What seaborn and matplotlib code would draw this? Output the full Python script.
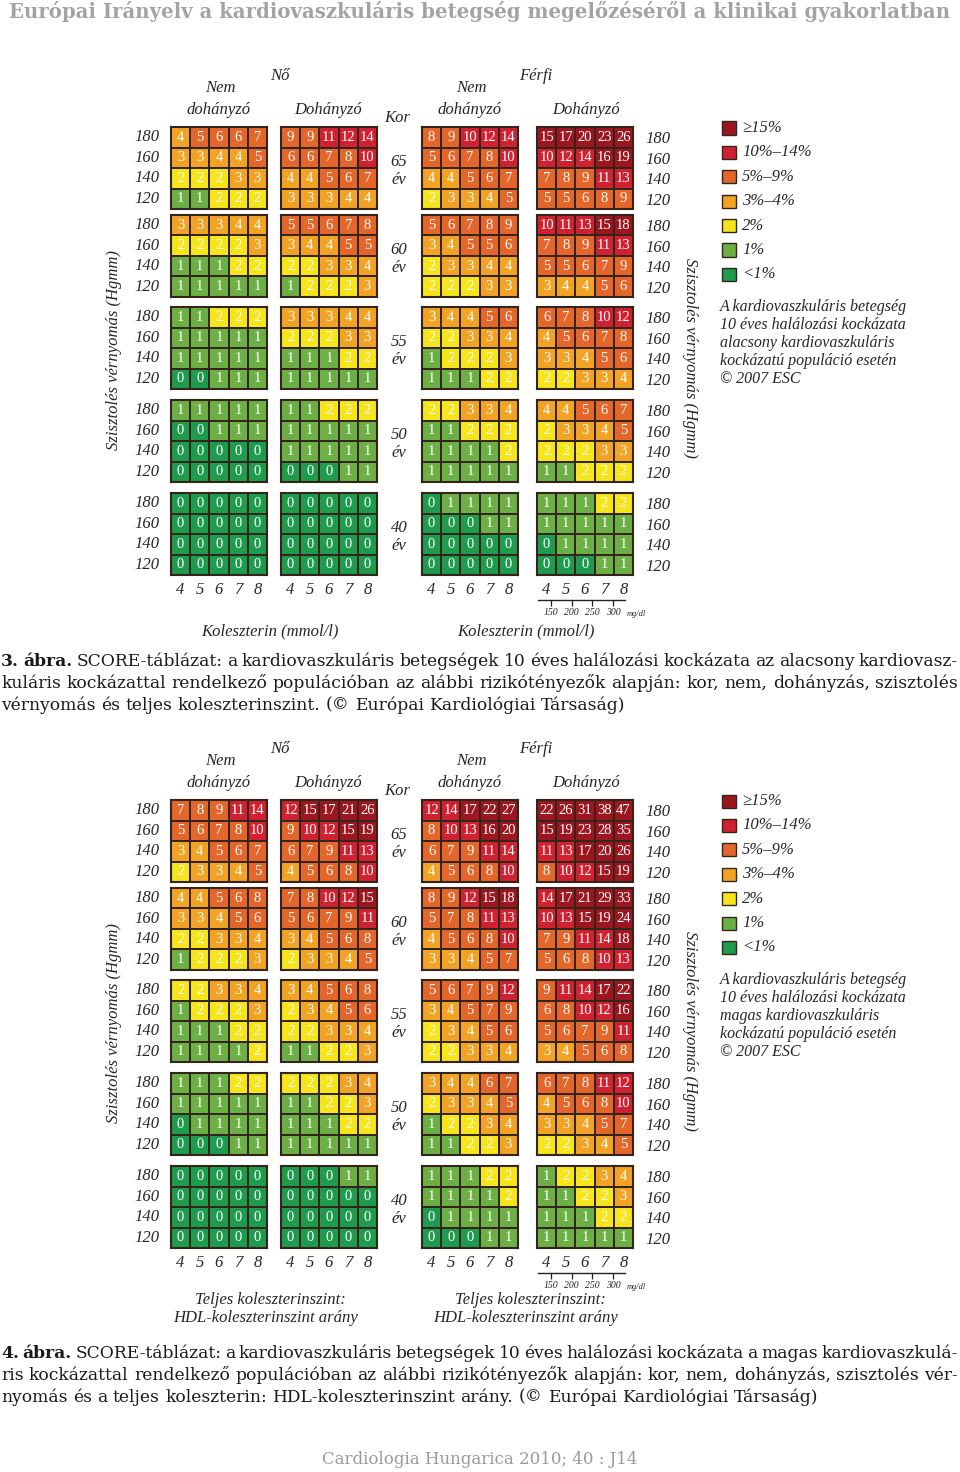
import numpy as np
import seaborn as sns
import matplotlib.pyplot as plt
from matplotlib.colors import ListedColormap, BoundaryNorm
from matplotlib.patches import Rectangle

sns.set_theme(style='white')
plt.rcParams['font.family'] = ['Liberation Serif', 'DejaVu Serif']

W, H = 960, 1472

# ---- data ----
sbp_levels = [180, 160, 140, 120]
chol_levels = [4, 5, 6, 7, 8]
ages = [65, 60, 55, 50, 40]
mgdl_ticks = [150, 200, 250, 300]

risk_bins = [0, 1, 2, 3, 5, 10, 15, 100]
risk_colors = ['#1e9b4c', '#6cb045', '#f5e51a', '#f2a324', '#e5662a', '#cf2130', '#9c1620']
legend_labels = ['≥15%', '10%–14%', '5%–9%', '3%–4%', '2%', '1%', '<1%']

zeros = [[0, 0, 0, 0, 0]] * 4

low_women_nonsmoker = [
    [[4, 5, 6, 6, 7], [3, 3, 4, 4, 5], [2, 2, 2, 3, 3], [1, 1, 2, 2, 2]],
    [[3, 3, 3, 4, 4], [2, 2, 2, 2, 3], [1, 1, 1, 2, 2], [1, 1, 1, 1, 1]],
    [[1, 1, 2, 2, 2], [1, 1, 1, 1, 1], [1, 1, 1, 1, 1], [0, 0, 1, 1, 1]],
    [[1, 1, 1, 1, 1], [0, 0, 1, 1, 1], [0, 0, 0, 0, 0], [0, 0, 0, 0, 0]],
    zeros,
]
low_women_smoker = [
    [[9, 9, 11, 12, 14], [6, 6, 7, 8, 10], [4, 4, 5, 6, 7], [3, 3, 3, 4, 4]],
    [[5, 5, 6, 7, 8], [3, 4, 4, 5, 5], [2, 2, 3, 3, 4], [1, 2, 2, 2, 3]],
    [[3, 3, 3, 4, 4], [2, 2, 2, 3, 3], [1, 1, 1, 2, 2], [1, 1, 1, 1, 1]],
    [[1, 1, 2, 2, 2], [1, 1, 1, 1, 1], [1, 1, 1, 1, 1], [0, 0, 0, 1, 1]],
    zeros,
]
low_men_nonsmoker = [
    [[8, 9, 10, 12, 14], [5, 6, 7, 8, 10], [4, 4, 5, 6, 7], [2, 3, 3, 4, 5]],
    [[5, 6, 7, 8, 9], [3, 4, 5, 5, 6], [2, 3, 3, 4, 4], [2, 2, 2, 3, 3]],
    [[3, 4, 4, 5, 6], [2, 2, 3, 3, 4], [1, 2, 2, 2, 3], [1, 1, 1, 2, 2]],
    [[2, 2, 3, 3, 4], [1, 1, 2, 2, 2], [1, 1, 1, 1, 2], [1, 1, 1, 1, 1]],
    [[0, 1, 1, 1, 1], [0, 0, 0, 1, 1], [0, 0, 0, 0, 0], [0, 0, 0, 0, 0]],
]
low_men_smoker = [
    [[15, 17, 20, 23, 26], [10, 12, 14, 16, 19], [7, 8, 9, 11, 13], [5, 5, 6, 8, 9]],
    [[10, 11, 13, 15, 18], [7, 8, 9, 11, 13], [5, 5, 6, 7, 9], [3, 4, 4, 5, 6]],
    [[6, 7, 8, 10, 12], [4, 5, 6, 7, 8], [3, 3, 4, 5, 6], [2, 2, 3, 3, 4]],
    [[4, 4, 5, 6, 7], [2, 3, 3, 4, 5], [2, 2, 2, 3, 3], [1, 1, 2, 2, 2]],
    [[1, 1, 1, 2, 2], [1, 1, 1, 1, 1], [0, 1, 1, 1, 1], [0, 0, 0, 1, 1]],
]

high_women_nonsmoker = [
    [[7, 8, 9, 11, 14], [5, 6, 7, 8, 10], [3, 4, 5, 6, 7], [2, 3, 3, 4, 5]],
    [[4, 4, 5, 6, 8], [3, 3, 4, 5, 6], [2, 2, 3, 3, 4], [1, 2, 2, 2, 3]],
    [[2, 2, 3, 3, 4], [1, 2, 2, 2, 3], [1, 1, 1, 2, 2], [1, 1, 1, 1, 2]],
    [[1, 1, 1, 2, 2], [1, 1, 1, 1, 1], [0, 1, 1, 1, 1], [0, 0, 0, 1, 1]],
    zeros,
]
high_women_smoker = [
    [[12, 15, 17, 21, 26], [9, 10, 12, 15, 19], [6, 7, 9, 11, 13], [4, 5, 6, 8, 10]],
    [[7, 8, 10, 12, 15], [5, 6, 7, 9, 11], [3, 4, 5, 6, 8], [2, 3, 3, 4, 5]],
    [[3, 4, 5, 6, 8], [2, 3, 4, 5, 6], [2, 2, 3, 3, 4], [1, 1, 2, 2, 3]],
    [[2, 2, 2, 3, 4], [1, 1, 2, 2, 3], [1, 1, 1, 2, 2], [1, 1, 1, 1, 1]],
    [[0, 0, 0, 1, 1], [0, 0, 0, 0, 0], [0, 0, 0, 0, 0], [0, 0, 0, 0, 0]],
]
high_men_nonsmoker = [
    [[12, 14, 17, 22, 27], [8, 10, 13, 16, 20], [6, 7, 9, 11, 14], [4, 5, 6, 8, 10]],
    [[8, 9, 12, 15, 18], [5, 7, 8, 11, 13], [4, 5, 6, 8, 10], [3, 3, 4, 5, 7]],
    [[5, 6, 7, 9, 12], [3, 4, 5, 7, 9], [2, 3, 4, 5, 6], [2, 2, 3, 3, 4]],
    [[3, 4, 4, 6, 7], [2, 3, 3, 4, 5], [1, 2, 2, 3, 4], [1, 1, 2, 2, 3]],
    [[1, 1, 1, 2, 2], [1, 1, 1, 1, 2], [0, 1, 1, 1, 1], [0, 0, 0, 1, 1]],
]
high_men_smoker = [
    [[22, 26, 31, 38, 47], [15, 19, 23, 28, 35], [11, 13, 17, 20, 26], [8, 10, 12, 15, 19]],
    [[14, 17, 21, 29, 33], [10, 13, 15, 19, 24], [7, 9, 11, 14, 18], [5, 6, 8, 10, 13]],
    [[9, 11, 14, 17, 22], [6, 8, 10, 12, 16], [5, 6, 7, 9, 11], [3, 4, 5, 6, 8]],
    [[6, 7, 8, 11, 12], [4, 5, 6, 8, 10], [3, 3, 4, 5, 7], [2, 2, 3, 4, 5]],
    [[1, 2, 2, 3, 4], [1, 1, 2, 2, 3], [1, 1, 1, 2, 2], [1, 1, 1, 1, 1]],
]

title = 'Európai Irányelv a kardiovaszkuláris betegség megelőzéséről a klinikai gyakorlatban'
caption1 = ['3. ábra. SCORE-táblázat: a kardiovaszkuláris betegségek 10 éves halálozási kockázata az alacsony kardiovasz-',
            'kuláris kockázattal rendelkező populációban az alábbi rizikótényezők alapján: kor, nem, dohányzás, szisztolés',
            'vérnyomás és teljes koleszterinszint. (© Európai Kardiológiai Társaság)']
caption2 = ['4. ábra. SCORE-táblázat: a kardiovaszkuláris betegségek 10 éves halálozási kockázata a magas kardiovaszkulá-',
            'ris kockázattal rendelkező populációban az alábbi rizikótényezők alapján: kor, nem, dohányzás, szisztolés vér-',
            'nyomás és a teljes koleszterin: HDL-koleszterinszint arány. (© Európai Kardiológiai Társaság)']
note1 = ['A kardiovaszkuláris betegség', '10 éves halálozási kockázata', 'alacsony kardiovaszkuláris',
         'kockázatú populáció esetén', '© 2007 ESC']
note2 = ['A kardiovaszkuláris betegség', '10 éves halálozási kockázata', 'magas kardiovaszkuláris',
         'kockázatú populáció esetén', '© 2007 ESC']

# ---- layout (pixels) ----
grid_left = [171, 281, 422, 537]
grid_w, grid_h = 96, 82
band_top = [127, 215, 307, 400, 493]
edge = '#33251b'

cmap = ListedColormap(risk_colors)
norm = BoundaryNorm(risk_bins, cmap.N)

fig = plt.figure(figsize=(W / 100, H / 100), dpi=100)


def fx(x):
    return x / W


def fy(y):
    return 1 - y / H


def label(x, y, s, size=12, **kw):
    kw.setdefault('ha', 'center')
    kw.setdefault('va', 'center')
    kw.setdefault('style', 'italic')
    return fig.text(fx(x), fy(y), s, fontsize=size, **kw)


def grid(left, top, data, left_ticks=False, right_ticks=False, bottom_ticks=False):
    ax = fig.add_axes([fx(left), fy(top + grid_h), grid_w / W, grid_h / H])
    sns.heatmap(np.array(data), ax=ax, cmap=cmap, norm=norm, annot=True, fmt='d',
                cbar=False, linewidths=1.1, linecolor=edge,
                xticklabels=chol_levels if bottom_ticks else False,
                yticklabels=sbp_levels if (left_ticks or right_ticks) else False,
                annot_kws=dict(color='white', fontsize=10.5, family='Liberation Serif'))
    for s in ax.spines.values():
        s.set_visible(True)
        s.set_color(edge)
        s.set_linewidth(1.5)
    ax.tick_params(length=0)
    if left_ticks or right_ticks:
        ax.set_yticklabels(sbp_levels, rotation=0, fontsize=12, fontstyle='italic')
        if right_ticks:
            ax.yaxis.tick_right()
            ax.tick_params(axis='y', pad=9, length=0)
        else:
            ax.tick_params(axis='y', pad=8, length=0)
    if bottom_ticks:
        ax.set_xticklabels(chol_levels, rotation=0, fontsize=12, fontstyle='italic')
        ax.tick_params(axis='x', pad=5, length=0)
    return ax


def justified(lines, y0, dy):
    r = fig.canvas.get_renderer()
    x0, x1 = 1, 958
    for li, line in enumerate(lines):
        words = line.split(' ')
        texts = []
        for wi, w in enumerate(words):
            bold = li == 0 and wi < 2
            texts.append(fig.text(0, fy(y0 + li * dy), w, fontsize=12.3, family='DejaVu Serif',
                                  weight='bold' if bold else 'normal', va='center', ha='left',
                                  color='#1a1a1a'))
        widths = [t.get_window_extent(r).width for t in texts]
        if li < len(lines) - 1:
            gap = (x1 - x0 - sum(widths)) / (len(words) - 1)
        else:
            gap = 5.4
        x = x0
        for t, wd in zip(texts, widths):
            t.set_x(fx(x))
            x += wd + gap


def chart(dy, blocks, note, caption, caption_y, low):
    for i, age in enumerate(ages):
        top = band_top[i] + dy
        for j, block in enumerate(blocks):
            grid(grid_left[j], top, block[i],
                 left_ticks=(j == 0), right_ticks=(j == 3), bottom_ticks=(i == 4))
        label(399, top + 35, str(age))
        label(399, top + 53, 'év')

    # headers
    label(280, 76 + dy, 'Nő')
    label(536, 76 + dy, 'Férfi')
    label(220, 88 + dy, 'Nem')
    label(219, 110 + dy, 'dohányzó')
    label(328, 110 + dy, 'Dohányzó')
    label(471, 88 + dy, 'Nem')
    label(470, 110 + dy, 'dohányzó')
    label(586, 110 + dy, 'Dohányzó')
    label(397, 118 + dy, 'Kor')
    label(114, 350 + dy, 'Szisztolés vérnyomás (Hgmm)', rotation=90)
    label(690, 358 + dy, 'Szisztolés vérnyomás (Hgmm)', rotation=270)

    # cholesterol axis labels
    if low:
        label(270, 631 + dy, 'Koleszterin (mmol/l)')
        label(526, 631 + dy, 'Koleszterin (mmol/l)')
    else:
        for cx in (270, 530):
            label(cx, 627 + dy, 'Teljes koleszterinszint:')
            label(cx - 4, 645 + dy, 'HDL-koleszterinszint arány')

    # mg/dl scale
    sx = fig.add_axes([fx(537), fy(600 + dy), grid_w / W, 0.0001])
    sx.set_xlim(116, 348)
    sx.set_xticks(mgdl_ticks)
    sx.set_xticklabels(mgdl_ticks, fontsize=7, fontstyle='italic')
    sx.set_yticks([])
    sx.patch.set_visible(False)
    for k in ('top', 'left', 'right'):
        sx.spines[k].set_visible(False)
    sx.spines['bottom'].set_bounds(118, 329)
    sx.spines['bottom'].set_color('#222222')
    sx.spines['bottom'].set_linewidth(1.0)
    sx.tick_params(axis='x', length=4, width=0.9, pad=2, direction='out', colors='#222222',
                   bottom=True)
    label(627, 614 + dy, 'mg/dl', size=6, ha='left')

    # legend
    for k, (c, lab) in enumerate(zip(risk_colors[::-1], legend_labels)):
        cy = 128 + 24.4 * k + dy
        fig.add_artist(Rectangle((fx(722), fy(cy + 6.5)), 14 / W, 13 / H, transform=fig.transFigure,
                                 facecolor=c, edgecolor=edge, linewidth=1.0))
        label(742, cy, lab, size=12, ha='left')
    for k, line in enumerate(note):
        label(720, 307 + 18 * k + dy, line, size=11.5, ha='left')

    justified(caption, caption_y, 22)


chart(0, [low_women_nonsmoker, low_women_smoker, low_men_nonsmoker, low_men_smoker],
      note1, caption1, 661, True)
chart(673, [high_women_nonsmoker, high_women_smoker, high_men_nonsmoker, high_men_smoker],
      note2, caption2, 1353, False)

# title and footer
r = fig.canvas.get_renderer()
tt = fig.text(fx(480), fy(12), title, ha='center', va='center', family='DejaVu Serif',
              weight='bold', color='#a3a3a3', fontsize=14)
tt.set_fontsize(14 * 944 / tt.get_window_extent(r).width)
fig.text(fx(480), fy(1460), 'Cardiologia Hungarica 2010; 40 : J14', ha='center', va='center',
         family='DejaVu Serif', color='#9a9a9a', fontsize=12)

fig.savefig('out.png', dpi=100)
